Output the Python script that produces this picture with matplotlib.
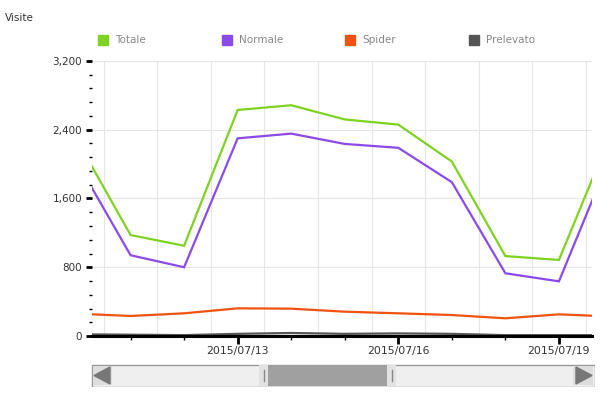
import datetime as dt
import matplotlib
matplotlib.use('Agg')
import matplotlib.pyplot as plt
import matplotlib.dates as mdates
from matplotlib.patches import Rectangle, Polygon

# data (one point per day, edges are clipped by the view)
days = ['2015-07-10', '2015-07-11', '2015-07-12', '2015-07-13', '2015-07-14', '2015-07-15',
        '2015-07-16', '2015-07-17', '2015-07-18', '2015-07-19', '2015-07-20']
totale = [2280, 1175, 1050, 2630, 2685, 2520, 2460, 2030, 930, 885, 2395]
normale = [2025, 940, 800, 2300, 2355, 2235, 2190, 1790, 730, 636, 2150]
spider = [260, 233, 264, 322, 318, 283, 264, 244, 206, 252, 226]
prelevato = [20, 15, 10, 25, 35, 25, 30, 25, 10, 10, 10]
names = ['Totale', 'Normale', 'Spider', 'Prelevato']
colors = ['#7ed321', '#8a4be6', '#f2520f', '#555555']
major_days = ['2015-07-13', '2015-07-16', '2015-07-19']

def toDate(s):
    return dt.datetime.strptime(s, '%Y-%m-%d')

x = [toDate(d) for d in days]

fig = plt.figure(figsize=(6.02, 3.97), dpi=100)
W, H = 602.0, 397.0
ax = fig.add_axes([92 / W, (H - 336) / H, 500 / W, 275 / H])

series = [totale, normale, spider, prelevato]
for vals, c in zip(series, colors):
    ax.plot(x, vals, color=c, lw=1.6, solid_joinstyle='miter')

# visible window: 07/10 ~07:00 to 07/19 ~15:00
x0 = mdates.date2num(x[0]) + 15 / 53.6
x1 = mdates.date2num(x[-1]) - 20.5 / 53.6

# grid: horizontal at major y, vertical at noon of each day
ax.set_yticks([0, 800, 1600, 2400, 3200])
ax.set_yticklabels(['0', '800', '1,600', '2,400', '3,200'])
ax.set_yticks(range(0, 3201, 160), minor=True)
for yv in [800, 1600, 2400, 3200]:
    ax.axhline(yv, color='#e6e6e6', lw=0.8, zorder=0)
for d in x[:-1]:
    ax.axvline(mdates.date2num(d) + 0.5, color='#e6e6e6', lw=0.8, zorder=0)

ax.set_xticks([mdates.date2num(toDate(d)) for d in major_days])
ax.set_xticklabels([d.replace('-', '/') for d in major_days])
ax.set_xticks([mdates.date2num(d) for d in x[1:-1]], minor=True)

ax.set_xlim(x0, x1)
ax.set_ylim(0, 3200)

for s in ['top', 'right', 'left']:
    ax.spines[s].set_visible(False)
ax.spines['bottom'].set_linewidth(2.2)
ax.spines['bottom'].set_color('black')
ax.spines['bottom'].set_zorder(5)

ax.tick_params(axis='y', which='major', length=4, width=2, color='black',
               labelsize=7.5, labelcolor='#333333', pad=3)
ax.tick_params(axis='y', which='minor', length=2, width=1, color='black')
ax.tick_params(axis='x', which='major', length=6, width=2, color='black',
               labelsize=7.8, labelcolor='#333333', pad=1)
ax.tick_params(axis='x', which='minor', length=3, width=1, color='black')

fig.text(5 / W, 1 - 18 / H, 'Visite', fontsize=7.5, color='#333333', va='center')

# legend row
legend_x = [98, 222, 345, 469]
for lx, n, c in zip(legend_x, names, colors):
    fig.patches.append(Rectangle((lx / W, 1 - 45 / H), 10 / W, 10 / H, color=c,
                                 transform=fig.transFigure))
    fig.text((lx + 17) / W, 1 - 40 / H, n, fontsize=7.5, color='#888888', va='center')

# scrollbar
sb = fig.add_axes([91 / W, (H - 387) / H, 504 / W, 23 / H])
sb.set_xlim(91, 595)
sb.set_ylim(387, 364)
sb.axis('off')
sb.add_patch(Rectangle((91.5, 364.5), 503, 22, facecolor='#efefef', edgecolor='#999999', lw=1))
sb.add_patch(Rectangle((268, 365), 119, 21, facecolor='#a0a0a0', edgecolor='none'))
for hx in [259, 387]:
    sb.add_patch(Rectangle((hx, 365), 9, 21, facecolor='#e2e2e2', edgecolor='none'))
    sb.plot([hx + 4.5, hx + 4.5], [370, 381], color='#888888', lw=1)
sb.add_patch(Rectangle((93, 366), 19, 19, facecolor='#dddddd', edgecolor='none'))
sb.add_patch(Polygon([(94, 375.5), (110, 367), (110, 384)], color='#777777'))
sb.add_patch(Rectangle((573, 366), 20, 19, facecolor='#dddddd', edgecolor='none'))
sb.add_patch(Polygon([(592, 375.5), (576, 367), (576, 384)], color='#777777'))

fig.savefig('out.png', dpi=100)
